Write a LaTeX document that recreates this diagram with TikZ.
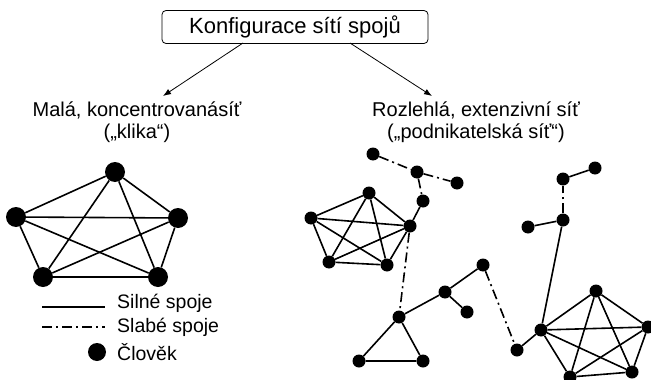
\documentclass[tikz,border=0pt]{standalone}
\usepackage{fontspec}
\setmainfont{Liberation Sans}
\usetikzlibrary{arrows.meta}
\tikzset{
    person/.style={circle,fill=black,inner sep=0pt,minimum size=#1},
    person/.default=13pt,
    strong/.style={line width=1.6pt},
    weak/.style={line width=1.6pt,dash pattern=on 10pt off 4pt on 2pt off 4pt},
    headbox/.style={draw,rounded corners=4pt,line width=0.8pt,minimum width=266pt,
        minimum height=33pt,font=\fontsize{22}{26}\selectfont},
    grouptext/.style={align=center,font=\fontsize{20}{22}\selectfont},
    legtext/.style={anchor=west,inner sep=0pt,font=\fontsize{19.5}{21.5}\selectfont},
    arr/.style={line width=0.8pt,-{Latex[length=8pt,width=6pt]}}
}
\begin{document}
\begin{tikzpicture}[x=1pt,y=-1pt]
    \useasboundingbox (0,0) rectangle (651,380);
    % title and the two branches
    \node[headbox] (head) at (295,27) {Konfigurace sítí spojů};
    \node[grouptext] (small) at (137,122) {Malá, koncentrovanásíť\\(„klika“)};
    \node[grouptext] (large) at (476,122) {Rozlehlá, extenzivní síť\\(„podnikatelská síť“)};
    \coordinate (hl) at (243,43);
    \coordinate (hr) at (350,43);
    \coordinate (tl) at (163,96);
    \coordinate (tr) at (432,96);
    \draw[arr] (hl) -- (tl);
    \draw[arr] (hr) -- (tr);
    %
    \begin{scope}
     % the clique
     \node[person=20pt] (l1) at (115,172) {};
     \node[person=20pt] (l2) at (16,217) {};
     \node[person=20pt] (l3) at (178,218) {};
     \node[person=20pt] (l4) at (43,277) {};
     \node[person=20pt] (l5) at (158,277) {};
     \foreach \a/\b in {l1/l2,l1/l3,l1/l4,l1/l5,l2/l3,l2/l4,l2/l5,l3/l4,l3/l5,l4/l5}
      \draw[strong] (\a) -- (\b);
     % legend
     \coordinate (s0) at (42,307); \coordinate (s1) at (105,307);
     \coordinate (w0) at (42,327); \coordinate (w1) at (105,327);
     \draw[strong] (s0) -- (s1);
     \draw[weak] (w0) -- (w1);
     \node[person=18pt] (lp) at (97,352) {};
     \node[legtext] (ls) at (117,303) {Silné spoje};
     \node[legtext] (lw) at (117,327) {Slabé spoje};
     \node[legtext] (lc) at (117,352) {Člověk};
    \end{scope}
    %
    \begin{scope}
     % first cluster
     \node[person] (p1) at (369,193) {};
     \node[person] (p2) at (311,218) {};
     \node[person] (p3) at (410,226) {};
     \node[person] (p4) at (329,262) {};
     \node[person] (p5) at (387,265) {};
     \foreach \a/\b in {p1/p2,p1/p3,p1/p4,p1/p5,p2/p3,p2/p4,p2/p5,p3/p4,p3/p5,p4/p5}
      \draw[strong] (\a) -- (\b);
     \node[person] (a1) at (373,154) {};
     \node[person] (a2) at (417,172) {};
     \node[person] (a3) at (457,183) {};
     \node[person] (a4) at (423,201) {};
     \draw[weak] (a1) -- (a2);
     \draw[weak] (a2) -- (a3);
     \draw[weak] (a2) -- (a4);
     \draw[strong] (a4) -- (p3);
     % chain in the middle
     \node[person] (t1) at (399,317) {};
     \node[person] (t2) at (445,292) {};
     \node[person] (t3) at (483,265) {};
     \node[person] (t4) at (467,312) {};
     \node[person] (t5) at (359,361) {};
     \node[person] (t6) at (423,361) {};
     \node[person] (t7) at (517,350) {};
     \draw[weak] (p3) -- (t1);
     \draw[strong] (t1) -- (t2) -- (t3);
     \draw[strong] (t2) -- (t4);
     \draw[strong] (t1) -- (t5) -- (t6) -- (t1);
     \draw[weak] (t3) -- (t7);
     % second cluster
     \node[person] (q1) at (596,291) {};
     \node[person] (q2) at (541,330) {};
     \node[person] (q3) at (648,327) {};
     \node[person] (q4) at (570,377) {};
     \node[person] (q5) at (632,372) {};
     \foreach \a/\b in {q1/q2,q1/q3,q1/q4,q1/q5,q2/q3,q2/q4,q2/q5,q3/q4,q3/q5,q4/q5}
      \draw[strong] (\a) -- (\b);
     \draw[strong] (t7) -- (q2);
     % branch on top right
     \node[person] (u0) at (528,227) {};
     \node[person] (u1) at (563,220) {};
     \node[person] (u2) at (563,179) {};
     \node[person] (u3) at (595,168) {};
     \draw[strong] (q2) -- (u1) -- (u0);
     \draw[weak] (u1) -- (u2);
     \draw[strong] (u2) -- (u3);
    \end{scope}
\end{tikzpicture}
\end{document}
